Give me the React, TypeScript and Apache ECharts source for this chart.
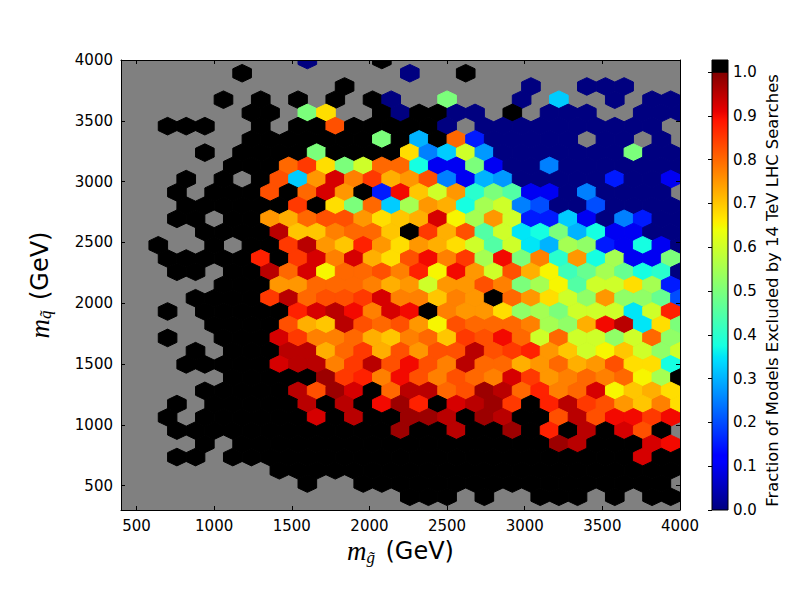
import React, { useEffect, useRef } from "react";
import * as echarts from "echarts";

const xTicks = [500, 1000, 1500, 2000, 2500, 3000, 3500, 4000];
const yTicks = [500, 1000, 1500, 2000, 2500, 3000, 3500, 4000];
const cbTicks = [0, 0.1, 0.2, 0.3, 0.4, 0.5, 0.6, 0.7, 0.8, 0.9, 1.0];
const X_MIN = 400, X_MAX = 4000, Y_MIN = 300, Y_MAX = 4000;
const NX = 30, NROWS = 34;
const CB_TOP = 1.0274;

// One character per hexagon: "." no models, "#" every model excluded,
// a..t = 0.00..0.95 in steps of 0.05, A..T the same plus 0.025.
const rows = [
  "..... ..... a...# ..... ..... ..... .",
  "..... .#... ..... a..#. ..... .....",
  "..... ..... ..#.. ..... ..a.. aaa.. .",
  "..... #.#.# .#.#a ..k.. .a.G. .a.aa",
  "..... ..##. kN..# a##aa .#.aa a..aa a",
  "..### ..#.# #Q### ##a.a aaaaa aaaa.",
  "..... ..### ####k #g#qd aaaaa .aa.a .",
  "....# .#### k#### NfGmF aaaaa aakaa",
  "..... .###q rNkmq qHcck caafa aaaaa a",
  "...#. #.#QG pSPrO pQfcg Faaaa adaac",
  "...#. ###Q# qSp#d sompi kjcca faaaa .",
  "...## ####r #NkqG lpOHl mfeaa eaaaa",
  "...## .##pO qQQpN oOSnl pmddG cafda a",
  "....# ###to oPqqo #rOQj mhHkg Hccaa",
  "..#.. #.##r tpoRp NpONm jmhgl KdcHc a",
  "..### ##R#r SPSON QsPrl skPip Hlcck",
  "...## .##tq SnqqQ PRnsp mQOnI JlJHi a",
  "..... ###pp qqqPO pmppQ Pklnj mmNld",
  "....# ###rt qQQrS PPoPp #qpNm KpKKJ e",
  "..#.# ####R StsPS s#Ppp NKlkm mmhmR",
  "..... ####Q OotQq QpnQq qqPlK OsthN k",
  "..#.. ###Sr PPqOo PqorQ sqmqm mKmqK",
  "....# .###t tOqrO QpQQt QrRpo mnomK m",
  "...## ###St tPrtQ sQPtq qOpqO pQNNH",
  "..... .#### #TrRP sQPQq PSrpP qPqnl #",
  "....# ####t QTS#q ttqQT tqRPq SnoON",
  "...#. ##### t#t#s TR#St Tr#Rt rQpoP N",
  "..#.# ##### S#t## TTt#T t##Qt Qssrs",
  "...## ##### ##### T##t# #T#R# t#SQ# .",
  "....# .#### ##### ##### ###Tt ###Ss",
  "...## .#### ##### ##### ##### ###S# #",
  "..... ...## ##### ##### ##### #####",
  "..... ..... #..## ##### ##### ##### .",
  "..... ..... ..... ###.# ..### .#.##",
  "..... ..... ..... ..... ..... ..... .",
];

const LETTERS = "abcdefghijklmnopqrst";
const OVER = 1.01;

function decode(ch: string): number | null {
  if (ch === ".") return null;
  if (ch === "#") return OVER;
  const lower = LETTERS.indexOf(ch);
  if (lower >= 0) return lower * 0.05;
  return LETTERS.indexOf(ch.toLowerCase()) * 0.05 + 0.025;
}

const lerp = (a: number, b: number, t: number) => a + (b - a) * Math.min(1, Math.max(0, t));

// matplotlib's "jet" colour map
function jet(v: number): string {
  const r = v < 0.35 ? 0 : v < 0.66 ? lerp(0, 1, (v - 0.35) / 0.31) : v < 0.89 ? 1 : lerp(1, 0.5, (v - 0.89) / 0.11);
  const g = v < 0.125 ? 0 : v < 0.375 ? lerp(0, 1, (v - 0.125) / 0.25) : v < 0.64 ? 1 : v < 0.91 ? lerp(1, 0, (v - 0.64) / 0.27) : 0;
  const b = v < 0.11 ? lerp(0.5, 1, v / 0.11) : v < 0.34 ? 1 : v < 0.65 ? lerp(1, 0, (v - 0.34) / 0.31) : 0;
  return `rgb(${Math.round(r * 255)},${Math.round(g * 255)},${Math.round(b * 255)})`;
}

const colourStopsAt = [0, 0.11, 0.125, 0.34, 0.35, 0.375, 0.64, 0.65, 0.66, 0.89, 0.91, 1];

const sx = (X_MAX - X_MIN) / NX;
const rowStep = (Y_MAX - Y_MIN) / NROWS;

const hexData: number[][] = [];
rows.forEach((row, j) => {
  const cells = row.replace(/ /g, "");
  for (let i = 0; i < cells.length; i++) {
    const v = decode(cells[i]);
    if (v === null) continue;
    const xv = X_MIN + (i + (j % 2 ? 0.5 : 0)) * sx;
    const yv = Y_MAX - j * rowStep;
    hexData.push([xv, yv, v]);
  }
});

const hexOffsets = [[0.5, -1 / 3], [0.5, 1 / 3], [0, 2 / 3], [-0.5, 1 / 3], [-0.5, -1 / 3], [0, -2 / 3]];

const TICK_FONT = "DejaVu Sans";
const frameLine = { show: true, onZero: false, lineStyle: { color: "#000", width: 1 } };
const tick = (values: number[]) => ({ show: true, inside: true, length: 4, customValues: values, lineStyle: { color: "#000", width: 1 } });

const nameRich = {
  m: { fontFamily: "Liberation Serif", fontStyle: "italic" as const, fontSize: 27, color: "#000", padding: [0, 0, 0, 0] },
  s: { fontFamily: "Liberation Serif", fontStyle: "italic" as const, fontSize: 17, color: "#000", padding: [12, 7, 0, 0] },
  u: { fontFamily: TICK_FONT, fontSize: 24, color: "#000" },
};

export default function App() {
  const ref = useRef<HTMLDivElement>(null);
  useEffect(() => {
    const chart = echarts.init(ref.current!, null, { renderer: "svg" });
    chart.setOption({
      animation: false,
      backgroundColor: "#fff",
      grid: [
        { left: 121, top: 60, width: 559, height: 450, show: true, backgroundColor: "#808080", borderWidth: 0 },
        { left: 712, top: 60, width: 16, height: 450, show: false },
      ],
      xAxis: [
        {
          type: "value", gridIndex: 0, min: X_MIN, max: X_MAX, position: "bottom", z: 5,
          axisLine: frameLine, axisTick: tick(xTicks), splitLine: { show: false },
          axisLabel: { customValues: xTicks, color: "#000", fontFamily: TICK_FONT, fontSize: 15, margin: 8, formatter: (v: number) => String(v) },
          name: "{m|m}{s|g\u0303} {u|(GeV)}", nameLocation: "middle", nameGap: 21,
          nameTextStyle: { rich: nameRich },
        },
        {
          type: "value", gridIndex: 0, min: X_MIN, max: X_MAX, position: "top", z: 5,
          axisLine: frameLine, axisTick: tick(xTicks), axisLabel: { show: false }, splitLine: { show: false },
        },
        { type: "value", gridIndex: 1, min: 0, max: 1, show: false },
      ],
      yAxis: [
        {
          type: "value", gridIndex: 0, min: Y_MIN, max: Y_MAX, position: "left", z: 5,
          axisLine: frameLine, axisTick: tick(yTicks), splitLine: { show: false },
          axisLabel: { customValues: yTicks, color: "#000", fontFamily: TICK_FONT, fontSize: 15, margin: 8, formatter: (v: number) => String(v) },
          name: "{m|m}{s|q\u0303} {u|(GeV)}", nameLocation: "middle", nameGap: 67, nameRotate: 90,
          nameTextStyle: { rich: nameRich },
        },
        {
          type: "value", gridIndex: 0, min: Y_MIN, max: Y_MAX, position: "right", z: 5,
          axisLine: frameLine, axisTick: tick(yTicks), axisLabel: { show: false }, splitLine: { show: false },
        },
        {
          type: "value", gridIndex: 1, min: 0, max: CB_TOP, position: "right", z: 5,
          axisLine: { show: false },
          axisTick: tick(cbTicks),
          splitLine: { show: false },
          axisLabel: {
            customValues: cbTicks, color: "#000", fontFamily: TICK_FONT, fontSize: 15, margin: 5,
            formatter: (v: number) => v.toFixed(1),
          },
          name: "Fraction of Models Excluded by 14 TeV LHC Searches",
          nameLocation: "middle", nameGap: 36, nameRotate: 90,
          nameTextStyle: { color: "#000", fontFamily: TICK_FONT, fontSize: 16.4, padding: [0, 11, 0, 0] },
        },
      ],
      series: [
        {
          type: "custom", xAxisIndex: 0, yAxisIndex: 0, coordinateSystem: "cartesian2d", clip: true, silent: true,
          data: hexData,
          renderItem: (_p: any, api: any) => {
            const cx = api.value(0), cy = api.value(1), v = api.value(2);
            const points = hexOffsets.map(([dx, dy]) => api.coord([cx + dx * sx, cy + dy * rowStep]));
            const color = v > 1 ? "#000" : jet(v);
            return { type: "polygon", shape: { points }, style: { fill: color, stroke: color, lineWidth: 1 } };
          },
        },
        {
          type: "custom", xAxisIndex: 2, yAxisIndex: 2, coordinateSystem: "cartesian2d", silent: true,
          data: [[0, 1, 0], [1, CB_TOP, 1]],
          renderItem: (_p: any, api: any) => {
            const low = api.coord([0, api.value(0)]);
            const high = api.coord([1, api.value(1)]);
            const fill = api.value(2)
              ? "#000"
              : new echarts.graphic.LinearGradient(0, 1, 0, 0,
                  colourStopsAt.map((offset) => ({ offset, color: jet(offset) })));
            return {
              type: "rect",
              shape: { x: low[0], y: high[1], width: high[0] - low[0], height: low[1] - high[1] },
              style: { fill, stroke: "#000", lineWidth: 1 },
            };
          },
        },
      ],
    });
    return () => chart.dispose();
  }, []);
  return <div ref={ref} style={{ width: 800, height: 600, position: "absolute", left: 0, top: 0 }} />;
}
